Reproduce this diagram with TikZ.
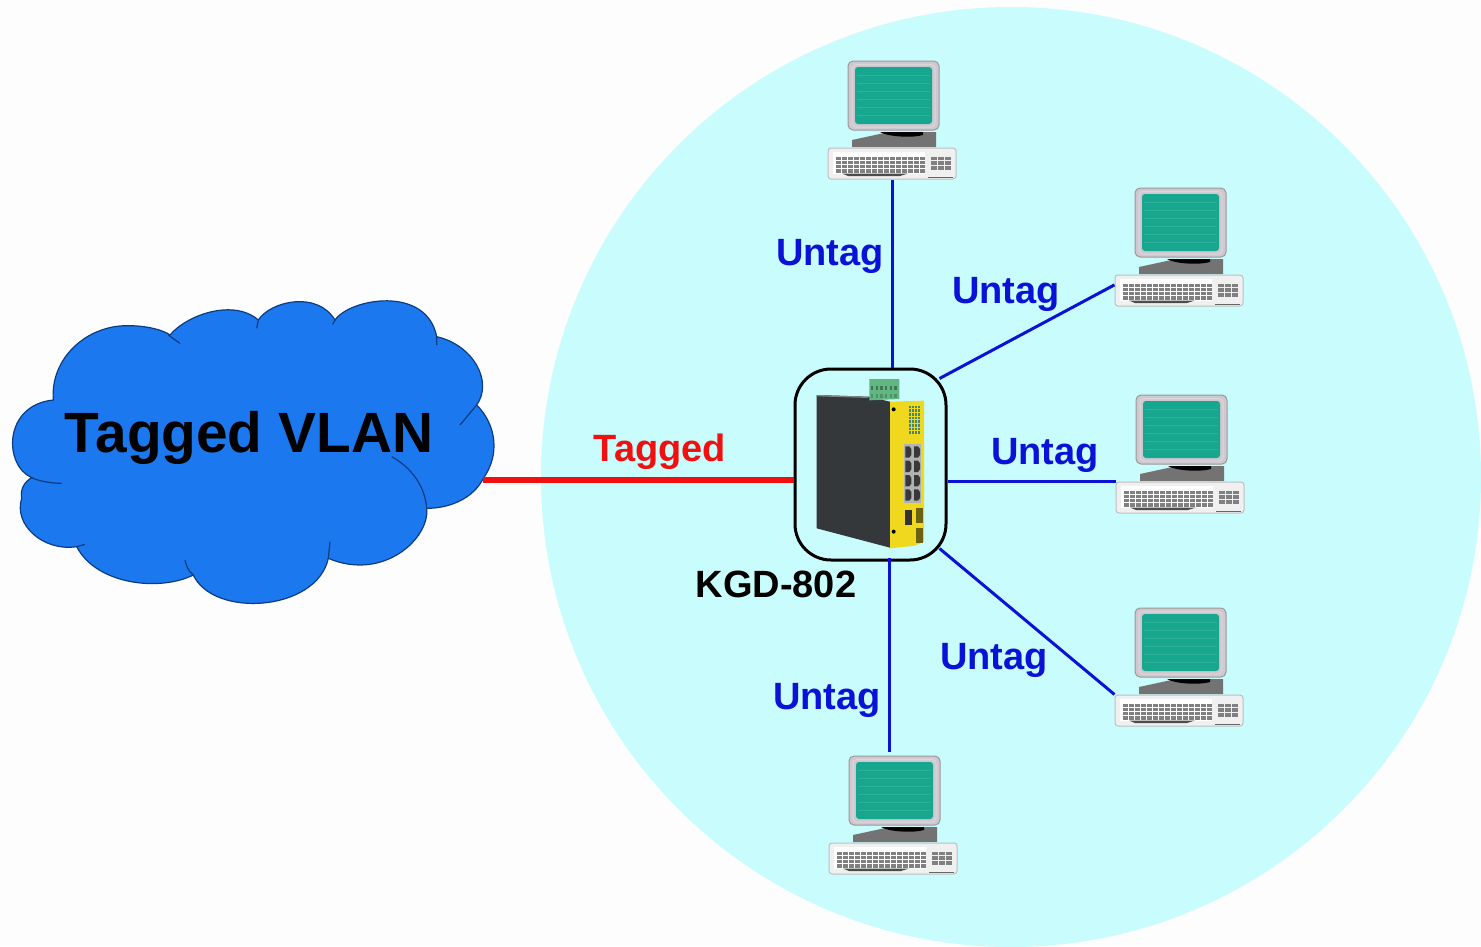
\documentclass[tikz,border=0pt]{standalone}
\usepackage{fontspec}
\setmainfont{Liberation Sans}
\usetikzlibrary{calc}
\definecolor{pagebg}{HTML}{FDFDFD}
\definecolor{zone}{HTML}{C9FCFC}
\definecolor{cloudfill}{HTML}{1C78EE}
\definecolor{cloudline}{HTML}{0C3C80}
\definecolor{untagblue}{HTML}{0A12D8}
\definecolor{tagred}{HTML}{F01010}
\definecolor{screenteal}{HTML}{17A68E}
\definecolor{casegray}{HTML}{CFC8D0}
\definecolor{bodydark}{HTML}{34383A}
\definecolor{swyellow}{HTML}{EFD81E}
\definecolor{termgreen}{HTML}{62B682}
\tikzset{
  untagline/.style={draw=untagblue,line width=3pt},
  untaglabel/.style={anchor=base,text=untagblue,font=\fontsize{38}{41}\selectfont\bfseries,inner sep=0pt},
  kbdbox/.style={draw=black!25,fill=black!6,line width=1pt,rounded corners=3pt,minimum width=128pt,minimum height=31pt,inner sep=0pt},
  monbox/.style={draw=black!40,fill=casegray,line width=1pt,rounded corners=5pt,minimum width=91pt,minimum height=69pt,inner sep=0pt},
  computer/.pic={
    \node[monbox] (-mon) at (65.5,34.5) {};
    \draw[white!85!black,line width=1pt,rounded corners=4pt] (24,3.5) rectangle (107,66);
    \fill[screenteal,rounded corners=3pt] (27,6) rectangle (104,63);
    \foreach \l in {14,22,...,58}{
      \draw[white!92!screenteal,opacity=0.12,line width=1pt] (29,\l) -- (102,\l);
    }
    \fill[black!55] (24,86) -- (24,79) -- (61,71) -- (108,71) -- (108,86) -- cycle;
    \fill[black] (52,71) .. controls (60,76) and (85,77) .. (95,74) -- (95,71) -- cycle;
    \node[kbdbox] (-kbd) at (64,102.5) {};
    \fill[white] (5,91) rectangle (97,113);
    \foreach \r in {0,1,2,3}{
      \foreach \c in {0,...,14}{
        \fill[black!50] ({8+\c*6},{95.5+\r*4.2}) rectangle ++(5.2,3.4);
      }
    }
    \fill[black!70] (14,112.5) -- (80,112.5) -- (72,115) -- (20,115) -- cycle;
    \foreach \r in {0,1,2}{
      \foreach \c in {0,1,2}{
        \fill[black!50] ({102.5+\c*7},{95.5+\r*4.6}) rectangle ++(6,3.8);
      }
    }
    \draw[black!60,line width=1pt] (100,116) -- (125,116);
  }
}
\begin{document}
\begin{tikzpicture}[x=1pt,y=-1pt]
\useasboundingbox (0,0) rectangle (1481,946);
\fill[pagebg] (0,0) rectangle (1481,946);
\fill[zone] (1011,477) circle[radius=470pt];

% computers
\pic (pc1) at (828,61) {computer};
\pic (pc2) at (1115,188) {computer};
\pic (pc3) at (1116,395) {computer};
\pic (pc4) at (1115,608) {computer};
\pic (pc5) at (829,756) {computer};

% switch frame
\node[draw=black,line width=3pt,rounded corners=36pt,minimum width=151pt,minimum height=191pt,inner sep=0pt] (sw) at (870.5,464.5) {};

% switch picture
\begin{scope}[shift={(780,355)},x=0.33333pt,y=-0.33333pt]
  \fill[bodydark] (110,120) -- (265,125) -- (330,140) -- (330,578) -- (110,520) -- cycle;
  \fill[black!50] (110,120) -- (265,125) -- (265,129) -- (110,124) -- cycle;
  \fill[swyellow] (330,140) -- (432,137) -- (432,560) -- (405,572) -- (330,580) -- cycle;
  \fill[termgreen] (268,72) -- (358,72) -- (358,132) -- (268,136) -- cycle;
  \foreach \i in {0,...,5}{
    \fill[black!35!termgreen] ({273+\i*14},92) rectangle ++(7,14);
    \fill[black!20!termgreen] ({273+\i*14},116) rectangle ++(7,12);
  }
  \fill[black] (341,163) circle[radius=6];
  \fill[black] (341,530) circle[radius=6];
  \foreach \r in {0,...,7}{
    \foreach \c in {0,1,2,3}{
      \fill[black!25!termgreen] ({387+\c*9},{152+\r*11}) rectangle ++(7,8);
    }
  }
  \fill[black!30] (372,268) rectangle (424,445);
  \foreach \r in {0,1,2,3}{
    \foreach \c in {0,1}{
      \fill[black!78] ({376+\c*26},{274+\r*43}) -- ++(12,0) -- ++(6,8) -- ++(0,18) -- ++(-6,8) -- ++(-12,0) -- cycle;
    }
  }
  \fill[black!80] (376,465) rectangle (396,510);
  \fill[black!55!swyellow] (408,458) rectangle (430,505);
  \fill[black!55!swyellow] (408,518) rectangle (430,565);
\end{scope}

% cloud
\begin{scope}[shift={(0,285)},x=0.33333pt,y=-0.33333pt]
  \draw[fill=cloudfill,draw=cloudline,line width=1.2pt]
    (160,345) .. controls (150,220) and (260,120) .. (385,122)
    .. controls (440,122) and (490,135) .. (510,150)
    .. controls (560,90) and (700,40) .. (775,105)
    .. controls (810,50) and (950,15) .. (1005,105)
    .. controls (1050,40) and (1280,0) .. (1310,155)
    .. controls (1420,180) and (1480,290) .. (1430,360)
    .. controls (1490,420) and (1500,510) .. (1450,580)
    .. controls (1420,640) and (1350,670) .. (1280,670)
    .. controls (1290,760) and (1150,890) .. (985,820)
    .. controls (950,980) and (640,1000) .. (580,870)
    .. controls (480,920) and (290,900) .. (230,785)
    .. controls (130,800) and (40,720) .. (65,640)
    .. controls (60,610) and (75,590) .. (95,578)
    .. controls (10,540) and (10,360) .. (160,345) -- cycle;
  \draw[draw=cloudline,line width=1.2pt]
    (1175,515) .. controls (1230,545) and (1275,600) .. (1280,670)
    (1380,420) -- (1430,360)
    (505,150) -- (540,175)
    (775,105) -- (770,130)
    (1005,105) -- (998,118)
    (1310,155) -- (1310,180)
    (95,578) .. controls (120,590) and (160,595) .. (185,595)
    (230,785) -- (255,778)
    (985,820) -- (990,770)
    (580,870) .. controls (565,860) and (558,840) .. (555,825);
\end{scope}
\coordinate (cloudport) at (483,480);
\node[anchor=base,inner sep=0pt,font=\fontsize{56.8}{60}\selectfont\bfseries] (vlan) at (249,452) {Tagged VLAN};

% connectors
\draw[draw=tagred,line width=6.5pt] (cloudport) -- (cloudport -| sw.west);
\draw[untagline] (pc1-kbd.south) -- (pc1-kbd.south |- sw.north);
\draw[untagline] (pc2-kbd.175) -- ($(sw.north east)+(-8,11)$);
\draw[untagline] (pc3-kbd.north west) -- (pc3-kbd.north west -| sw.east);
\draw[untagline] (pc4-kbd.north west) -- ($(sw.south east)+(-8,-13)$);
\draw[untagline] ([shift={(-5,-4)}]pc5-mon.north) -- ([shift={(-5,-4)}]pc5-mon.north |- sw.south);

% labels
\node[untaglabel] (l1) at (830,265) {Untag};
\node[untaglabel] (l2) at (1006,303) {Untag};
\node[untaglabel] (l3) at (1045,464) {Untag};
\node[untaglabel] (l4) at (994,669) {Untag};
\node[untaglabel] (l5) at (827,709) {Untag};
\node[anchor=base,inner sep=0pt,text=tagred,font=\fontsize{38}{41}\selectfont\bfseries] (tagged) at (660,461) {Tagged};
\node[anchor=base,inner sep=0pt,font=\fontsize{38}{41}\selectfont\bfseries] (model) at (776,597) {KGD-802};
\end{tikzpicture}
\end{document}
